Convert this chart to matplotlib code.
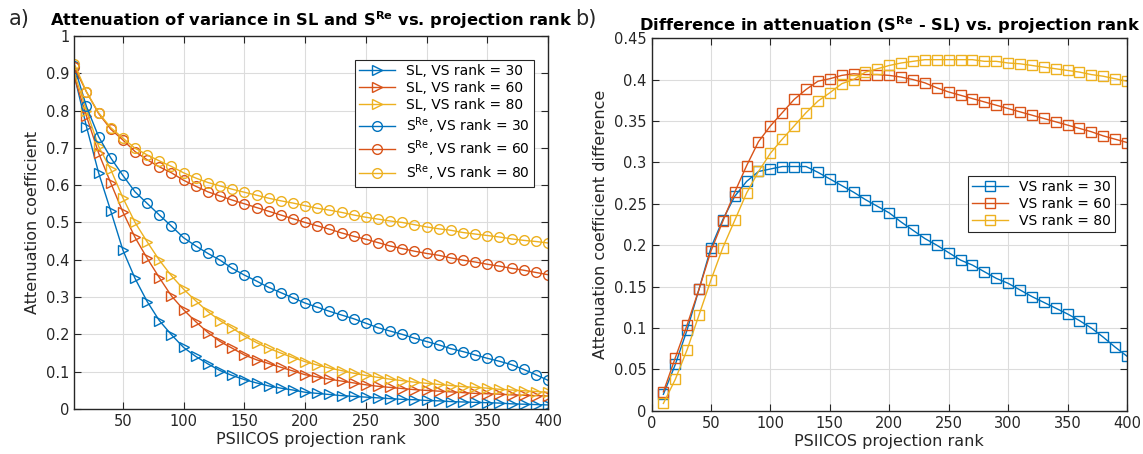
import matplotlib.pyplot as plt
from matplotlib.ticker import FormatStrFormatter

rank = list(range(10, 401, 10))

# panel a) SL attenuation
sl_30 = [0.894, 0.757, 0.633, 0.531, 0.426, 0.350, 0.288, 0.237, 0.199, 0.165,
         0.141, 0.121, 0.103, 0.090, 0.079, 0.070, 0.062, 0.056, 0.051, 0.045,
         0.042, 0.039, 0.036, 0.034, 0.032, 0.030, 0.028, 0.026, 0.025, 0.023,
         0.022, 0.020, 0.019, 0.018, 0.017, 0.016, 0.014, 0.013, 0.012, 0.011]
sl_60 = [0.890, 0.785, 0.686, 0.606, 0.528, 0.460, 0.404, 0.352, 0.303, 0.266,
         0.234, 0.205, 0.181, 0.163, 0.145, 0.132, 0.122, 0.112, 0.102, 0.092,
         0.086, 0.080, 0.075, 0.070, 0.065, 0.061, 0.058, 0.055, 0.052, 0.050,
         0.048, 0.046, 0.044, 0.042, 0.041, 0.040, 0.038, 0.037, 0.036, 0.035]
sl_80 = [0.900, 0.800, 0.704, 0.642, 0.566, 0.500, 0.448, 0.399, 0.357, 0.321,
         0.290, 0.261, 0.237, 0.217, 0.196, 0.178, 0.163, 0.150, 0.138, 0.127,
         0.118, 0.110, 0.103, 0.096, 0.090, 0.085, 0.080, 0.076, 0.072, 0.069,
         0.066, 0.063, 0.060, 0.058, 0.056, 0.053, 0.051, 0.049, 0.047, 0.045]
# panel a) S^Re attenuation
sre_30 = [0.918, 0.811, 0.730, 0.673, 0.626, 0.582, 0.551, 0.520, 0.490, 0.459,
          0.437, 0.417, 0.399, 0.377, 0.359, 0.343, 0.326, 0.312, 0.298, 0.284,
          0.273, 0.262, 0.252, 0.242, 0.230, 0.218, 0.209, 0.200, 0.190, 0.181,
          0.172, 0.162, 0.154, 0.145, 0.136, 0.128, 0.119, 0.106, 0.092, 0.077]
sre_60 = [0.916, 0.850, 0.792, 0.750, 0.721, 0.690, 0.668, 0.649, 0.633, 0.613,
          0.597, 0.582, 0.571, 0.560, 0.550, 0.540, 0.530, 0.520, 0.510, 0.500,
          0.491, 0.482, 0.472, 0.463, 0.455, 0.446, 0.437, 0.430, 0.423, 0.417,
          0.412, 0.405, 0.399, 0.394, 0.388, 0.383, 0.377, 0.372, 0.366, 0.360]
sre_80 = [0.925, 0.850, 0.794, 0.754, 0.726, 0.699, 0.681, 0.665, 0.650, 0.633,
          0.619, 0.607, 0.598, 0.589, 0.581, 0.573, 0.565, 0.558, 0.552, 0.545,
          0.538, 0.533, 0.527, 0.520, 0.514, 0.509, 0.504, 0.500, 0.494, 0.488,
          0.483, 0.479, 0.473, 0.469, 0.465, 0.461, 0.456, 0.452, 0.449, 0.445]

# panel b) difference S^Re - SL
diff_30 = [0.020, 0.056, 0.098, 0.147, 0.197, 0.231, 0.259, 0.277, 0.289, 0.292,
           0.295, 0.295, 0.295, 0.288, 0.280, 0.272, 0.264, 0.255, 0.247, 0.239,
           0.228, 0.218, 0.208, 0.200, 0.191, 0.182, 0.176, 0.168, 0.160, 0.154,
           0.146, 0.138, 0.131, 0.124, 0.117, 0.109, 0.100, 0.089, 0.077, 0.066]
diff_60 = [0.023, 0.064, 0.104, 0.147, 0.193, 0.229, 0.264, 0.296, 0.325, 0.344,
           0.360, 0.376, 0.388, 0.398, 0.401, 0.405, 0.407, 0.406, 0.406, 0.405,
           0.403, 0.400, 0.396, 0.390, 0.385, 0.381, 0.377, 0.373, 0.369, 0.365,
           0.361, 0.357, 0.353, 0.349, 0.345, 0.341, 0.337, 0.332, 0.328, 0.324]
diff_80 = [0.009, 0.038, 0.074, 0.116, 0.158, 0.197, 0.230, 0.263, 0.289, 0.311,
           0.328, 0.344, 0.360, 0.374, 0.384, 0.395, 0.400, 0.409, 0.413, 0.417,
           0.420, 0.422, 0.424, 0.424, 0.424, 0.424, 0.424, 0.422, 0.422, 0.420,
           0.419, 0.417, 0.415, 0.413, 0.411, 0.409, 0.406, 0.404, 0.401, 0.398]

colors = ['#0072BD', '#D95319', '#EDB120']
vs_labels = ['30', '60', '80']

plt.rcParams['font.family'] = 'DejaVu Sans'
plt.rcParams['mathtext.fontset'] = 'dejavusans'

fig = plt.figure(figsize=(11.43, 4.54), dpi=100)
ax1 = fig.add_axes([0.065, 0.099, 0.4145, 0.822])
ax2 = fig.add_axes([0.570, 0.095, 0.416, 0.821])

mk = dict(markerfacecolor='none', markersize=7, markeredgewidth=1.0, linewidth=1.0)

for s, c, v in zip([sl_30, sl_60, sl_80], colors, vs_labels):
    ax1.plot(rank, s, '->', color=c, label='SL, VS rank = ' + v, **mk)
for s, c, v in zip([sre_30, sre_60, sre_80], colors, vs_labels):
    ax1.plot(rank, s, '-o', color=c, label=r'S$^{\mathrm{Re}}$, VS rank = ' + v, **mk)

for s, c, v in zip([diff_30, diff_60, diff_80], colors, vs_labels):
    ax2.plot(rank, s, '-s', color=c, label='VS rank = ' + v, **mk)


def style(ax):
    ax.grid(True, color='#dcdcdc', linewidth=0.8)
    ax.set_axisbelow(True)
    ax.tick_params(direction='in', top=True, right=True, labelsize=10.5,
                   colors='#262626', length=5)
    for sp in ax.spines.values():
        sp.set_color('#262626')
        sp.set_linewidth(1.0)
    ax.yaxis.set_major_formatter(FormatStrFormatter('%g'))
    ax.set_xlabel('PSIICOS projection rank', fontsize=11.5, color='#262626', labelpad=2)


ax1.set_xlim(10, 400)
ax1.set_ylim(0, 1)
ax1.set_xticks(range(50, 401, 50))
ax1.set_yticks([i / 10 for i in range(11)])
style(ax1)
ax1.set_ylabel('Attenuation coefficient', fontsize=11.5, color='#262626')
ax1.set_title(r'Attenuation of variance in SL and $\mathbf{S^{Re}}$ vs. projection rank',
              fontsize=11.7, fontweight='bold', pad=7)
leg1 = ax1.legend(loc='upper right', bbox_to_anchor=(0.985, 0.955), fontsize=10,
                  fancybox=False, edgecolor='#262626', framealpha=1,
                  handlelength=2.6, borderpad=0.3, labelspacing=0.22)
leg1.get_frame().set_linewidth(0.8)

ax2.set_xlim(0, 400)
ax2.set_ylim(0, 0.45)
ax2.set_xticks(range(0, 401, 50))
ax2.set_yticks([i * 0.05 for i in range(10)])
style(ax2)
ax2.set_ylabel('Attenuation coefficient difference', fontsize=11.5, color='#262626')
ax2.set_title(r'Difference in attenuation ($\mathbf{S^{Re}}$ - SL) vs. projection rank',
              fontsize=11.7, fontweight='bold', pad=5)
leg2 = ax2.legend(loc='center right', bbox_to_anchor=(0.99, 0.555), fontsize=10,
                  fancybox=False, edgecolor='#262626', framealpha=1,
                  handlelength=2.6, borderpad=0.3, labelspacing=0.22)
leg2.get_frame().set_linewidth(0.8)

fig.text(0.008, 0.945, 'a)', fontsize=15, color='#262626')
fig.text(0.503, 0.945, 'b)', fontsize=15, color='#262626')

fig.savefig('out.png', dpi=100)
